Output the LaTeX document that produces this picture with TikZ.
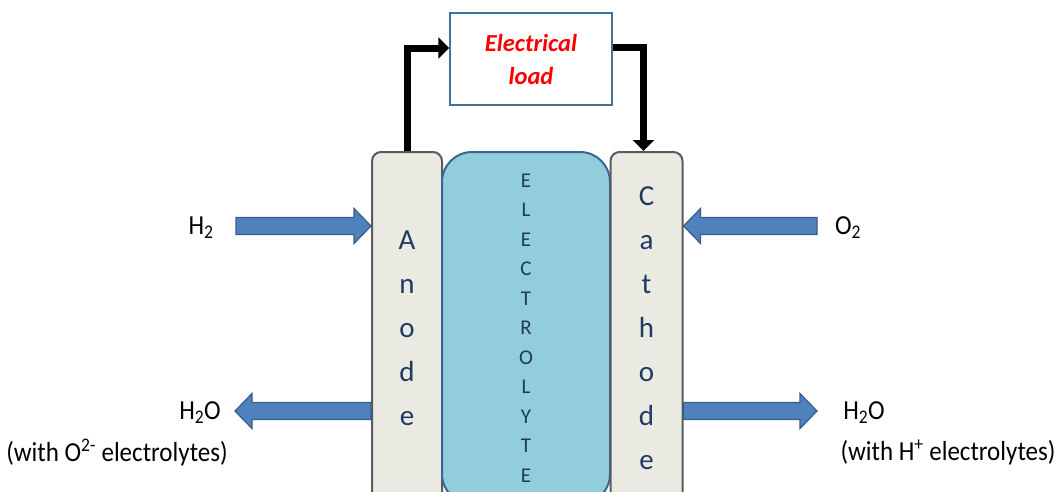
\documentclass[tikz,border=0pt]{standalone}
\usepackage{fontspec}
\setmainfont{Carlito}
\usetikzlibrary{calc,arrows.meta}
\definecolor{elecfill}{HTML}{EBEAE2}
\definecolor{elecdraw}{HTML}{5A5A5A}
\definecolor{lytefill}{HTML}{92CDDC}
\definecolor{lytedraw}{HTML}{3B6494}
\definecolor{arrfill}{HTML}{4F81BD}
\definecolor{arrdraw}{HTML}{385D8A}
\definecolor{boxtext}{HTML}{1F3A60}
\definecolor{loaddraw}{HTML}{41719C}
\newcommand\vstretch[1]{\scalebox{1}[1.1]{#1}}
\tikzset{
  electrode/.style={draw=elecdraw, fill=elecfill, line width=2pt, rounded corners=9pt,
    text=boxtext, align=center, font={\fontsize{29}{44}\selectfont}},
  lyte/.style={draw=lytedraw, fill=lytefill, line width=2pt, rounded corners=30pt,
    text=boxtext, align=center, font={\fontsize{21}{29.5}\selectfont}},
  loadbox/.style={draw=loaddraw, fill=white, line width=1.5pt, text=red, align=center,
    font={\fontsize{24.5}{33}\selectfont\bfseries\itshape}},
  wire/.style={line width=7pt, -{Triangle[length=11pt,width=21pt]}},
  lbl/.style={font={\fontsize{25}{28}\selectfont}, inner sep=0pt},
  blockarrow/.style={fill=arrfill, draw=arrdraw, line width=1.2pt, to path={
    ($(\tikztotarget)!17pt!(\tikztostart)$) coordinate (hb)
    ($(\tikztostart)!8.5pt!90:(\tikztotarget)$) -- ($(hb)!8.5pt!90:(\tikztotarget)$)
    -- ($(hb)!17.5pt!90:(\tikztotarget)$) -- (\tikztotarget)
    -- ($(hb)!17.5pt!-90:(\tikztotarget)$) -- ($(hb)!8.5pt!-90:(\tikztotarget)$)
    -- ($(\tikztostart)!8.5pt!-90:(\tikztotarget)$) -- cycle}}
}
\begin{document}
\begin{tikzpicture}[x=1pt,y=-1pt]
\useasboundingbox (0,0) rectangle (1059,491);
\clip (0,0) rectangle (1059,491);
% cell
\node[electrode, minimum width=70pt, minimum height=352pt] (anode) at (407,328)
  {A\\n\\o\\d\\e};
\node[lyte, minimum width=168pt, minimum height=352pt] (lyte) at (526,328)
  {E\\L\\E\\C\\T\\R\\O\\L\\Y\\T\\E};
\node[electrode, minimum width=72pt, minimum height=352pt] (cathode) at (646.5,328)
  {C\\a\\t\\h\\o\\d\\e};
% load
\node[loadbox, minimum width=162pt, minimum height=92pt] (load) at (531,59)
  {Electrical\\load};
\draw[wire] (anode.north) |- ([yshift=11pt]load.west);
\draw[wire] ([yshift=12pt]load.east) -| ([xshift=-3pt]cathode.north);
% labels
\node[lbl] (h2) at (201,228) {\vstretch{H\textsubscript{2}}};
\node[lbl] (o2) at (848,228) {\vstretch{O\textsubscript{2}}};
\node[lbl] (h2oL) at (200,413) {\vstretch{H\textsubscript{2}O}};
\node[lbl] (noteL) at (117,452) {\vstretch{(with O\textsuperscript{2-} electrolytes)}};
\node[lbl] (h2oR) at (864,413) {\vstretch{H\textsubscript{2}O}};
\node[lbl] (noteR) at (948,452) {\vstretch{(with H\textsuperscript{+} electrolytes)}};
% flows
\coordinate (h2s) at (236,226);
\coordinate (o2s) at (817,226);
\coordinate (h2oLe) at (235,411);
\coordinate (h2oRe) at (817,411);
\path[blockarrow] (h2s) to (anode.west |- h2s);
\path[blockarrow] (o2s) to (cathode.east |- o2s);
\path[blockarrow] (anode.west |- h2oLe) to (h2oLe);
\path[blockarrow] (cathode.east |- h2oRe) to (h2oRe);
\end{tikzpicture}
\end{document}
